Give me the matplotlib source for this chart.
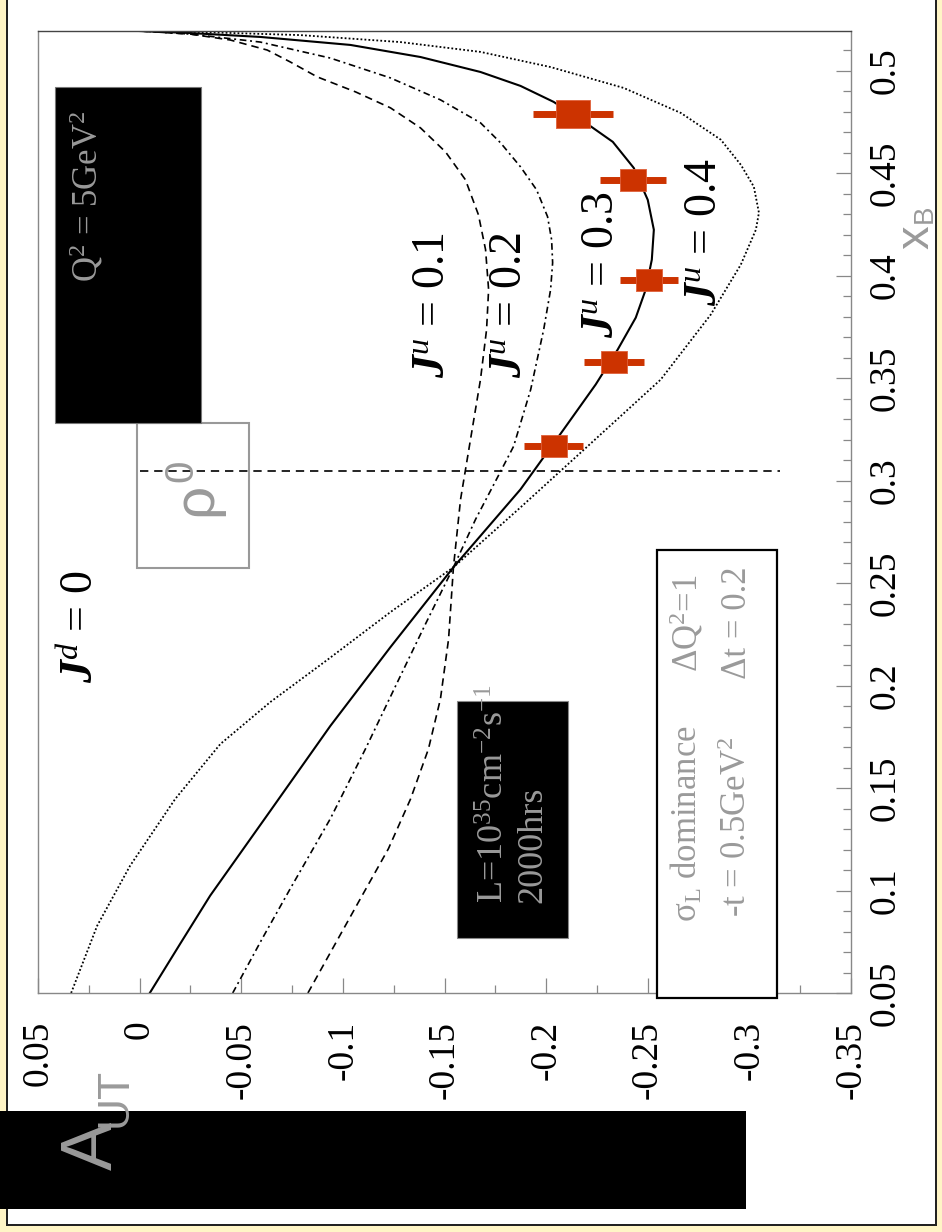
import numpy as np
import matplotlib
matplotlib.use("Agg")
import matplotlib.pyplot as plt
from matplotlib.patches import Rectangle
from matplotlib.ticker import FixedLocator, FixedFormatter, MultipleLocator

# ---------------------------------------------------------------- data
# Curves: A_UT versus x_B for J^d = 0 and several J^u values
xb_ju01 = [0.0500, 0.0741, 0.0960, 0.1204, 0.1447, 0.1691, 0.1935, 0.2227, 0.2578,
           0.2909, 0.3202, 0.3494, 0.3738, 0.3933, 0.4128, 0.4298, 0.4469, 0.4605,
           0.4722, 0.4820, 0.4898, 0.4971, 0.5044, 0.5102, 0.5151, 0.5180, 0.5195]
a_ju01 = [-0.0828, -0.0963, -0.1086, -0.1224, -0.1333, -0.1421, -0.1480, -0.1520, -0.1544,
          -0.1579, -0.1628, -0.1677, -0.1707, -0.1717, -0.1702, -0.1667, -0.1603, -0.1505,
          -0.1382, -0.1234, -0.1062, -0.0874, -0.0741, -0.0628, -0.0446, -0.0249, 0.0]

xb_ju02 = [0.0500, 0.0765, 0.1009, 0.1350, 0.1691, 0.2008, 0.2300, 0.2578, 0.2812,
           0.3017, 0.3168, 0.3445, 0.3738, 0.3933, 0.4064, 0.4176, 0.4289, 0.4420,
           0.4532, 0.4649, 0.4747, 0.4859, 0.4966, 0.5063, 0.5141, 0.5180, 0.5195]
a_ju02 = [-0.0458, -0.0603, -0.0741, -0.0938, -0.1111, -0.1264, -0.1406, -0.1544, -0.1653,
          -0.1761, -0.1840, -0.1924, -0.1988, -0.2022, -0.2032, -0.2027, -0.2007, -0.1953,
          -0.1874, -0.1776, -0.1677, -0.1480, -0.1234, -0.0938, -0.0594, -0.0249, 0.0]

xb_ju03 = [0.0500, 0.0741, 0.0975, 0.1389, 0.1803, 0.2188, 0.2578, 0.2958, 0.3250,
           0.3470, 0.3640, 0.3796, 0.3933, 0.4079, 0.4225, 0.4371, 0.4527, 0.4654,
           0.4737, 0.4849, 0.4927, 0.4995, 0.5068, 0.5127, 0.5166, 0.5185, 0.5195]
a_ju03 = [-0.0050, -0.0200, -0.0347, -0.0643, -0.0938, -0.1234, -0.1544, -0.1874, -0.2086,
          -0.2244, -0.2352, -0.2441, -0.2490, -0.2520, -0.2530, -0.2500, -0.2431, -0.2328,
          -0.2209, -0.2037, -0.1874, -0.1677, -0.1382, -0.1037, -0.0594, -0.0249, 0.0]

xb_ju04 = [0.0500, 0.0828, 0.1121, 0.1447, 0.1715, 0.1920, 0.2130, 0.2359, 0.2578,
           0.2870, 0.3168, 0.3494, 0.3811, 0.4055, 0.4225, 0.4308, 0.4435, 0.4542,
           0.4664, 0.4795, 0.4917, 0.5019, 0.5093, 0.5141, 0.5175, 0.5190, 0.5195]
a_ju04 = [0.0337, 0.0209, 0.0047, -0.0175, -0.0397, -0.0643, -0.0929, -0.1234, -0.1544,
          -0.1874, -0.2204, -0.2564, -0.2810, -0.2958, -0.3032, -0.3047, -0.3022, -0.2958,
          -0.2860, -0.2663, -0.2382, -0.2022, -0.1677, -0.1283, -0.0791, -0.0298, 0.0]

# Projected measurement (on the J^u = 0.3 curve)
xb_points = [0.317, 0.358, 0.398, 0.447, 0.479]
a_points = [-0.2037, -0.2332, -0.2505, -0.2426, -0.2131]
a_errors = [0.0145, 0.0148, 0.0143, 0.0163, 0.0197]

rho_xb = 0.305           # x_B value of the reference line
rho_line_a = (0.0, -0.315)

a_ticks = [0.05, 0.0, -0.05, -0.1, -0.15, -0.2, -0.25, -0.3, -0.35]
a_ticklabels = ["0.05", "0", "-0.05", "-0.1", "-0.15", "-0.2", "-0.25", "-0.3", "-0.35"]
xb_ticks = [0.05, 0.1, 0.15, 0.2, 0.25, 0.3, 0.35, 0.4, 0.45, 0.5]
xb_ticklabels = ["0.05", "0.1", "0.15", "0.2", "0.25", "0.3", "0.35", "0.4", "0.45", "0.5"]

# ---------------------------------------------------------------- style
plt.rcParams.update({
    "font.family": ["Liberation Serif", "DejaVu Serif"],
    "mathtext.fontset": "custom",
    "mathtext.rm": "Liberation Serif",
    "mathtext.it": "Liberation Serif:italic",
    "mathtext.bf": "Liberation Serif:bold:italic",
})

W, H = 942, 1232
GRAY = "#9a9a9a"
RED = "#cc3300"
YELLOW = "#fff5c6"


def fx(px):
    return px / W


def fy(py):
    return 1 - py / H


fig = plt.figure(figsize=(W / 100, H / 100), dpi=100)
fig.patch.set_facecolor("white")

ax = fig.add_axes([fx(38), fy(993), fx(851) - fx(38), fy(31) - fy(993)])
ax.set_xlim(0.05, -0.35)
ax.set_ylim(0.05, 0.5195)

# curves (A_UT runs across, x_B runs up)
ax.plot(a_ju01, xb_ju01, color="black", lw=1.2, dashes=(4.5, 3))
ax.plot(a_ju02, xb_ju02, color="black", lw=1.2, dashes=(4, 2.2, 1.2, 2.2))
ax.plot(a_ju03, xb_ju03, color="black", lw=1.5)
ax.plot(a_ju04, xb_ju04, color="black", lw=1.3, dashes=(1.0, 1.2))

ax.plot(list(rho_line_a), [rho_xb, rho_xb], color="black", lw=1.2, dashes=(5, 3.5), zorder=4)

# projected data
ax.errorbar(a_points, xb_points, xerr=a_errors, fmt="none", ecolor=RED,
            elinewidth=5, capsize=0, zorder=5)
rect_marker = [(-13, -11), (13, -11), (13, 11), (-13, 11), (-13, -11)]
sizes = [18.5, 18.5, 18.5, 18.5, 24]
for a, xb, s in zip(a_points, xb_points, sizes):
    ax.plot([a], [xb], marker=rect_marker, markersize=s, color=RED,
            markeredgecolor="#e0603a", markeredgewidth=0.6, zorder=6)

# axes, ticks
for side in ["left", "right", "bottom"]:
    ax.spines[side].set_color("#888888")
    ax.spines[side].set_linewidth(1.0)
ax.spines["top"].set_color("#444444")
ax.spines["top"].set_linewidth(1.0)

ax.xaxis.set_major_locator(FixedLocator(a_ticks))
ax.xaxis.set_major_formatter(FixedFormatter(a_ticklabels))
ax.xaxis.set_minor_locator(MultipleLocator(0.025))
ax.yaxis.tick_right()
ax.yaxis.set_major_locator(FixedLocator(xb_ticks))
ax.yaxis.set_major_formatter(FixedFormatter(xb_ticklabels))
ax.yaxis.set_minor_locator(MultipleLocator(0.01))

ax.tick_params(axis="both", which="major", direction="in", length=11, width=0.9,
               color="#888888", labelsize=27, labelcolor="black")
ax.tick_params(axis="both", which="minor", direction="in", length=6, width=0.9,
               color="#888888")
ax.tick_params(axis="x", pad=20, labelrotation=90)
ax.tick_params(axis="y", pad=12, labelrotation=90)
for lab in ax.get_yticklabels():
    lab.set_va("center")

# curve labels
lab_kw = dict(rotation=90, ha="center", va="center", fontsize=33, color="black")
fig.text(fx(82), fy(627), r"$\mathbf{J}^{\mathit{d}}$ = $\mathit{0}$", **lab_kw)
fig.text(fx(433), fy(305), r"$\mathbf{J}^{\mathit{u}}$ = $\mathit{0.1}$", **lab_kw)
fig.text(fx(510), fy(305), r"$\mathbf{J}^{\mathit{u}}$ = $\mathit{0.2}$", **lab_kw)
fig.text(fx(602), fy(265), r"$\mathbf{J}^{\mathit{u}}$ = $\mathit{0.3}$", **lab_kw)
fig.text(fx(705), fy(232), r"$\mathbf{J}^{\mathit{u}}$ = $\mathit{0.4}$", **lab_kw)


def box(x0, y0, x1, y1, **kw):
    r = Rectangle((fx(x0), fy(y1)), fx(x1) - fx(x0), fy(y0) - fy(y1),
                  transform=fig.transFigure, **kw)
    fig.add_artist(r)
    return r


# kinematics box
box(55, 87, 201, 423, facecolor="black", edgecolor="#777777", lw=0.8, zorder=10)
fig.text(fx(87), fy(196), r"Q$^2$ = 5GeV$^2$", rotation=90, ha="center", va="center",
         fontsize=25, color=GRAY, zorder=11)

# rho^0 box
box(137, 423, 249, 568, facecolor="none", edgecolor="#999999", lw=1.5, zorder=3)
fig.text(fx(211), fy(516), "\u03c1", rotation=90, rotation_mode="anchor", ha="left",
         va="baseline", fontsize=42, color=GRAY, family="Liberation Sans", zorder=11)
fig.text(fx(192), fy(482), "0", rotation=90, rotation_mode="anchor", ha="left",
         va="baseline", fontsize=29, color=GRAY, family="Liberation Sans", zorder=11)

# luminosity box
box(457, 701, 568, 938, facecolor="black", edgecolor="#888888", lw=0.8, zorder=10)
fig.text(fx(514), fy(903), "L=10$^{35}$cm$^{-2}$s$^{-1}$\n2000hrs", rotation=90,
         ha="center", va="bottom", multialignment="left", linespacing=1.2,
         fontsize=26, color=GRAY, zorder=11)

# conditions box
box(657, 550, 777, 998, facecolor="white", edgecolor="black", lw=1.6, zorder=10)
cond_kw = dict(rotation=90, ha="center", va="center", fontsize=25, color=GRAY, zorder=11)
fig.text(fx(687), fy(824), "\u03c3$_{\\rm L}$ dominance", **cond_kw)
fig.text(fx(737), fy(827), "-t = 0.5GeV$^2$", **cond_kw)
fig.text(fx(687), fy(623), "\u0394Q$^2$=1", **cond_kw)
fig.text(fx(737), fy(623), "\u0394t = 0.2", **cond_kw)

# axis titles
box(0, 1111, 746, 1209, facecolor="black", edgecolor="none", zorder=20)
fig.text(fx(112), fy(1170), "A", rotation=90, rotation_mode="anchor", ha="left",
         va="baseline", fontsize=52, color=GRAY, family="Liberation Sans", zorder=21)
fig.text(fx(127), fy(1127), "UT", rotation=90, rotation_mode="anchor", ha="left",
         va="baseline", fontsize=32, color=GRAY, family="Liberation Sans", zorder=21)
fig.text(fx(928), fy(249), "x", rotation=90, rotation_mode="anchor", ha="left",
         va="baseline", fontsize=34, color=GRAY, family="Liberation Sans", zorder=12)
fig.text(fx(932), fy(223), "B", rotation=90, rotation_mode="anchor", ha="left",
         va="baseline", fontsize=20, color=GRAY, family="Liberation Sans", zorder=12)

# page border
box(0, 0, 6, 1232, facecolor=YELLOW, edgecolor="none", zorder=15)
box(937, 0, 942, 1232, facecolor=YELLOW, edgecolor="none", zorder=15)
box(0, 1226, 942, 1232, facecolor=YELLOW, edgecolor="none", zorder=15)
box(6, 0, 8, 1226, facecolor="#222222", edgecolor="none", zorder=16)
box(935, 0, 937, 1226, facecolor="#222222", edgecolor="none", zorder=16)
box(6, 1224, 937, 1226, facecolor="#222222", edgecolor="none", zorder=16)

fig.savefig("out.png", dpi=100)
